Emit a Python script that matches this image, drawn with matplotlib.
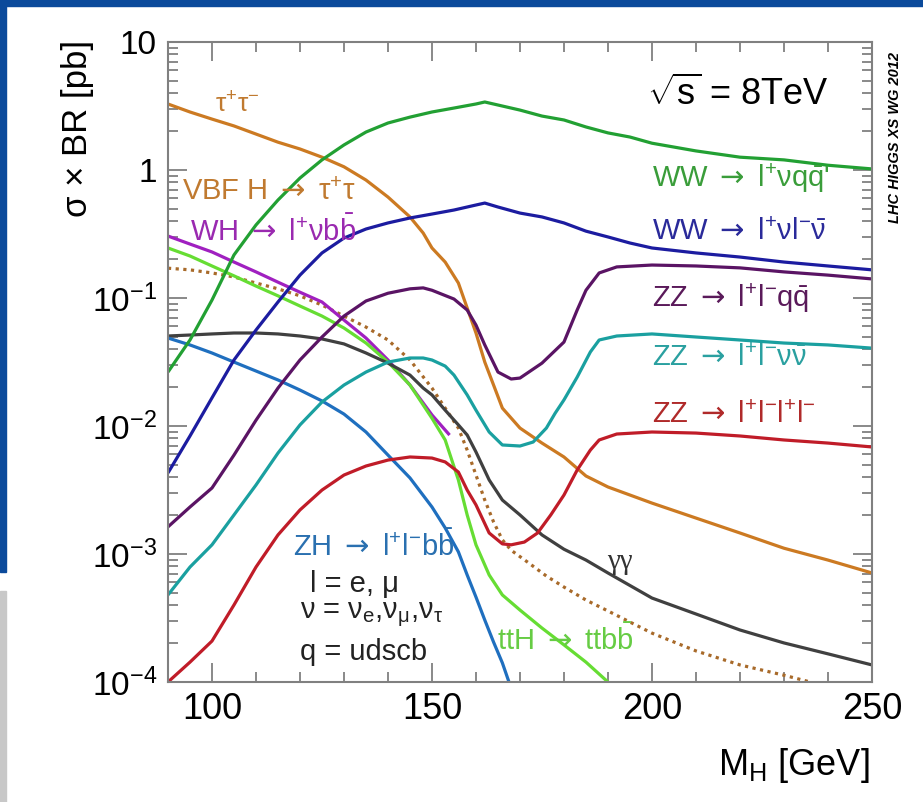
#!/usr/bin/env python3
"""SM Higgs cross section times branching ratio at sqrt(s) = 8 TeV.

Each search channel is drawn as sigma x BR [pb] versus M_H on a log scale,
with the channel name written next to its curve.
"""

import matplotlib

matplotlib.use("Agg")
import matplotlib.pyplot as plt
from matplotlib.patches import Rectangle
from matplotlib.ticker import FixedLocator, LogLocator, MultipleLocator, NullFormatter

plt.rcParams["font.family"] = ["Liberation Sans", "DejaVu Sans"]
plt.rcParams["mathtext.fontset"] = "custom"
plt.rcParams["mathtext.rm"] = "Liberation Sans"
plt.rcParams["mathtext.it"] = "Liberation Sans"
plt.rcParams["mathtext.bf"] = "Liberation Sans:bold"
# \mathsf is only used for the decay arrow, which is wider in DejaVu
plt.rcParams["mathtext.sf"] = "DejaVu Sans"

# ---- sigma x BR [pb] versus M_H [GeV] ----
m_ww_lvqq = [90, 95, 100, 105, 110, 115, 120, 125, 130, 135, 140, 145, 150, 155, 160,
             162, 165, 170, 175, 180, 185, 190, 195, 200, 210, 220, 230, 240, 250]
xs_ww_lvqq = [0.0264, 0.047, 0.0964, 0.217, 0.372, 0.583, 0.866, 1.20, 1.57, 1.98, 2.33,
              2.59, 2.84, 3.05, 3.28, 3.40, 3.22, 2.94, 2.64, 2.46, 2.17, 1.95, 1.81, 1.62,
              1.41, 1.26, 1.20, 1.09, 1.02]

m_ww_lvlv = [90, 95, 100, 105, 110, 115, 120, 125, 130, 135, 140, 145, 150, 155, 160,
             162, 165, 170, 175, 180, 185, 190, 195, 200, 210, 220, 230, 240, 250]
xs_ww_lvlv = [0.0043, 0.00836, 0.0166, 0.0328, 0.0562, 0.0931, 0.151, 0.225, 0.294, 0.346,
              0.386, 0.422, 0.453, 0.487, 0.533, 0.552, 0.514, 0.461, 0.430, 0.386, 0.333,
              0.300, 0.269, 0.246, 0.225, 0.209, 0.191, 0.178, 0.166]

m_zz_llqq = [90, 95, 100, 105, 110, 115, 120, 125, 130, 135, 140, 145, 148, 150, 155, 158,
             160, 162, 165, 168, 170, 175, 180, 183, 185, 188, 192, 200, 210, 220, 230, 240, 250]
xs_zz_llqq = [0.00163, 0.00233, 0.00328, 0.00593, 0.0111, 0.0198, 0.0328, 0.0496, 0.0723,
              0.0948, 0.109, 0.118, 0.120, 0.115, 0.0982, 0.0806, 0.0615, 0.0430, 0.0264,
              0.0233, 0.0237, 0.0310, 0.0453, 0.0806, 0.115, 0.157, 0.175, 0.181, 0.178,
              0.172, 0.160, 0.151, 0.141]

m_zz_llvv = [90, 95, 100, 105, 110, 115, 120, 125, 130, 135, 140, 145, 148, 150, 153, 155,
             158, 160, 163, 166, 170, 173, 176, 178, 180, 183, 186, 188, 192, 200, 210, 220,
             230, 240, 250]
xs_zz_llvv = [0.000479, 0.000791, 0.00118, 0.00202, 0.00346, 0.00615, 0.0102, 0.0154, 0.0209,
              0.0264, 0.0316, 0.0340, 0.0340, 0.0328, 0.0294, 0.0250, 0.0175, 0.0133, 0.00898,
              0.00711, 0.00698, 0.00750, 0.00964, 0.0126, 0.0160, 0.0241, 0.0379, 0.0470,
              0.0505, 0.0524, 0.0496, 0.0470, 0.0445, 0.0430, 0.0406]

m_zz_4l = [90, 95, 100, 105, 110, 115, 120, 125, 130, 135, 140, 145, 150, 153, 156, 158,
           160, 163, 166, 168, 171, 174, 177, 180, 183, 186, 188, 192, 200, 210, 220, 230,
           240, 250]
xs_zz_4l = [0.0001, 0.000143, 0.000209, 0.000400, 0.000791, 0.00141, 0.00221, 0.00316,
            0.00414, 0.00487, 0.00542, 0.00573, 0.00562, 0.00524, 0.00437, 0.00316, 0.00242,
            0.00146, 0.00120, 0.00118, 0.00124, 0.00146, 0.00202, 0.00289, 0.00453, 0.00649,
            0.00778, 0.00866, 0.00898, 0.00881, 0.00836, 0.00778, 0.00736, 0.00686]

m_tautau = [90, 95, 100, 105, 110, 115, 120, 125, 130, 135, 140, 145, 148, 150, 153, 156,
            158, 160, 162, 164, 166, 170, 175, 180, 185, 190, 200, 210, 220, 230, 240, 250]
xs_tautau = [3.28, 2.84, 2.50, 2.21, 1.91, 1.65, 1.46, 1.26, 1.06, 0.835, 0.615, 0.430, 0.322,
             0.246, 0.191, 0.131, 0.0836, 0.0533, 0.0316, 0.0209, 0.0138, 0.00964, 0.00736,
             0.00573, 0.00407, 0.00334, 0.00250, 0.00191, 0.00146, 0.00111, 0.000897, 0.000711]

m_vbf_tautau = [90, 95, 100, 105, 110, 115, 120, 125, 130, 135, 140, 145, 150, 153, 156,
                158, 160, 162, 164, 166, 168, 172, 176, 180, 185, 190, 200, 210, 220, 230, 236]
xs_vbf_tautau = [0.171, 0.166, 0.157, 0.146, 0.131, 0.118, 0.104, 0.0881, 0.0723, 0.0593,
                 0.0470, 0.0328, 0.0198, 0.0138, 0.00964, 0.00649, 0.00414, 0.00264, 0.00178,
                 0.00129, 0.00107, 0.000851, 0.000673, 0.000552, 0.000437, 0.000359,
                 0.000241, 0.000175, 0.000136, 0.000113, 0.0001]

m_wh_lvbb = [90, 95, 100, 105, 110, 115, 120, 125, 130, 135, 140, 145, 150, 154]
xs_wh_lvbb = [0.305, 0.264, 0.229, 0.191, 0.160, 0.133, 0.111, 0.0931, 0.0673, 0.0487,
              0.0328, 0.0209, 0.0122, 0.0085]

m_tth_ttbb = [90, 95, 100, 105, 110, 115, 120, 125, 130, 135, 140, 145, 150, 153, 156, 158,
              160, 163, 166, 170, 175, 180, 185, 190]
xs_tth_ttbb = [0.246, 0.213, 0.178, 0.149, 0.124, 0.104, 0.0866, 0.0723, 0.0583, 0.0445,
               0.0316, 0.0209, 0.0115, 0.00778, 0.00379, 0.00202, 0.00118, 0.000686,
               0.000479, 0.000365, 0.000264, 0.000195, 0.000143, 0.0001]

m_gamgam = [90, 95, 100, 105, 110, 115, 120, 125, 130, 135, 140, 145, 148, 150, 153, 156,
            158, 160, 163, 166, 170, 175, 180, 185, 190, 200, 210, 220, 230, 240, 250]
xs_gamgam = [0.0505, 0.0514, 0.0524, 0.0533, 0.0533, 0.0524, 0.0505, 0.0479, 0.0438, 0.0372,
             0.0310, 0.0250, 0.0198, 0.0175, 0.0133, 0.0102, 0.00851, 0.00627, 0.00379,
             0.00264, 0.00202, 0.00141, 0.00109, 0.000897, 0.000711, 0.000453, 0.000340,
             0.000255, 0.000202, 0.000166, 0.000136]

m_zh_llbb = [90, 95, 100, 105, 110, 115, 120, 125, 130, 135, 140, 145, 150, 153, 156, 158,
             160, 162, 164, 166, 167.5]
xs_zh_llbb = [0.0487, 0.0430, 0.0372, 0.0316, 0.0269, 0.0229, 0.0191, 0.0157, 0.0124,
              0.00898, 0.00593, 0.00393, 0.00233, 0.00160, 0.00104, 0.000686, 0.000461,
              0.000305, 0.000205, 0.000141, 0.0001]

y_tick_values = [1e-4, 1e-3, 1e-2, 1e-1, 1, 10]
y_tick_labels = [r"10$^{-4}$", r"10$^{-3}$", r"10$^{-2}$", r"10$^{-1}$", "1", "10"]
x_tick_values = [100, 150, 200, 250]

# (mass, sigma x BR, colour, linestyle)
curves = [
    (m_tautau, xs_tautau, "#cc7a22", "-"),
    (m_vbf_tautau, xs_vbf_tautau, "#a86a2a", (0, (1, 1.4))),
    (m_wh_lvbb, xs_wh_lvbb, "#a020c0", "-"),
    (m_tth_ttbb, xs_tth_ttbb, "#66dd33", "-"),
    (m_gamgam, xs_gamgam, "#404040", "-"),
    (m_zh_llbb, xs_zh_llbb, "#1f6fbf", "-"),
    (m_zz_4l, xs_zz_4l, "#c01c28", "-"),
    (m_zz_llvv, xs_zz_llvv, "#1aa0a0", "-"),
    (m_zz_llqq, xs_zz_llqq, "#5a1464", "-"),
    (m_ww_lvlv, xs_ww_lvlv, "#1c1ca0", "-"),
    (m_ww_lvqq, xs_ww_lvqq, "#22a033", "-"),
]

ARROW = r"$\mathsf{\rightarrow}$"

# channel names, in axes fractions
labels = [
    (0.067, 0.902, r"τ$^{+}$τ$^{-}$", "#c07a30", 19),
    (0.020, 0.766, r"VBF H " + ARROW + r" τ$^{+}$τ", "#c07a30", 21),
    (0.031, 0.705, r"WH " + ARROW + r" l$^{+}$νb$\bar{\rm b}$", "#9a2ab0", 21),
    (0.6875, 0.7875, r"WW " + ARROW + r" l$^{+}$νq$\bar{\rm q}$'", "#3a9d3a", 21),
    (0.6875, 0.703, r"WW " + ARROW + r" l$^{+}$νl$^{-}\bar{ν}$", "#2a2a9a", 21),
    (0.6875, 0.600, r"ZZ " + ARROW + r" l$^{+}$l$^{-}$q$\bar{\rm q}$", "#5a1a5a", 21),
    (0.6875, 0.506, r"ZZ " + ARROW + r" l$^{+}$l$^{-}$ν$\bar{ν}$", "#2aa0a0", 21),
    (0.6875, 0.417, r"ZZ " + ARROW + r" l$^{+}$l$^{-}$l$^{+}$l$^{-}$", "#b02a2a", 21),
    (0.178, 0.2125, r"ZH " + ARROW + r" l$^{+}$l$^{-}$b$\bar{\rm b}$", "#2a70b0", 21),
    (0.467, 0.066, r"ttH " + ARROW + r" ttb$\bar{\rm b}$", "#66cc44", 21),
    (0.202, 0.153, r"l = e, μ", "#222222", 21),
    (0.1875, 0.105, r"ν = ν$_{\rm e}$,ν$_{μ}$,ν$_{τ}$", "#222222", 21),
    (0.1875, 0.047, r"q = udscb", "#222222", 21),
]

fig = plt.figure(figsize=(9.23, 8.02), dpi=100)
ax = fig.add_axes([0.182, 0.1496, 0.7627, 0.798])

for mass, xs, color, style in curves:
    ax.plot(mass, xs, color=color, linestyle=style, linewidth=2.3, solid_capstyle="butt")

ax.set_yscale("log")
ax.set_xlim(90, 250)
ax.set_ylim(1e-4, 10)
ax.xaxis.set_major_locator(FixedLocator(x_tick_values))
ax.xaxis.set_minor_locator(MultipleLocator(10))
ax.yaxis.set_major_locator(FixedLocator(y_tick_values))
ax.yaxis.set_minor_locator(LogLocator(base=10, subs=range(2, 10)))
ax.yaxis.set_minor_formatter(NullFormatter())
ax.set_yticklabels(y_tick_labels)
ax.tick_params(axis="y", which="major", labelsize=24, pad=8)
ax.tick_params(axis="x", which="major", labelsize=26, pad=7)
ax.tick_params(which="both", direction="in", top=True, right=True, color="#808080", width=1.3)
ax.tick_params(which="major", length=14)
ax.tick_params(which="minor", length=7)
for spine in ax.spines.values():
    spine.set_color("#808080")
    spine.set_linewidth(1.5)

for x, y, text, color, size in labels:
    ax.text(x, y, text, color=color, fontsize=size, transform=ax.transAxes,
            ha="left", va="center")

ax.text(0.624, 0.1875, "γγ", color="#333333", fontsize=21, family="Liberation Serif",
        transform=ax.transAxes, ha="left", va="center")
ax.text(0.680, 0.917, r"$\sqrt{\rm s}$ = 8TeV", fontsize=26, transform=ax.transAxes,
        ha="left", va="center")

ax.text(-0.129, 1.003, "σ × BR [pb]", fontsize=25, rotation=90, transform=ax.transAxes,
        ha="center", va="top")
ax.text(0.997, -0.130, r"M$_{\rm H}$ [GeV]", fontsize=26, transform=ax.transAxes,
        ha="right", va="center")
fig.text(0.970, 0.829, "LHC HIGGS XS WG 2012", fontsize=10.5, fontweight="bold",
         fontstyle="italic", rotation=90, ha="center", va="center")

# slide frame around the plot
fig_w, fig_h = 923, 802
fig.add_artist(Rectangle((0, 1 - 6 / fig_h), 1, 6 / fig_h, transform=fig.transFigure,
                         color="#0b4a9b", zorder=5))
fig.add_artist(Rectangle((0, 1 - 572 / fig_h), 6 / fig_w, 572 / fig_h,
                         transform=fig.transFigure, color="#0b4a9b", zorder=5))
fig.add_artist(Rectangle((0, 0), 6 / fig_w, (fig_h - 591) / fig_h,
                         transform=fig.transFigure, color="#c8c8c8", zorder=5))

fig.savefig("out.png", dpi=100)
